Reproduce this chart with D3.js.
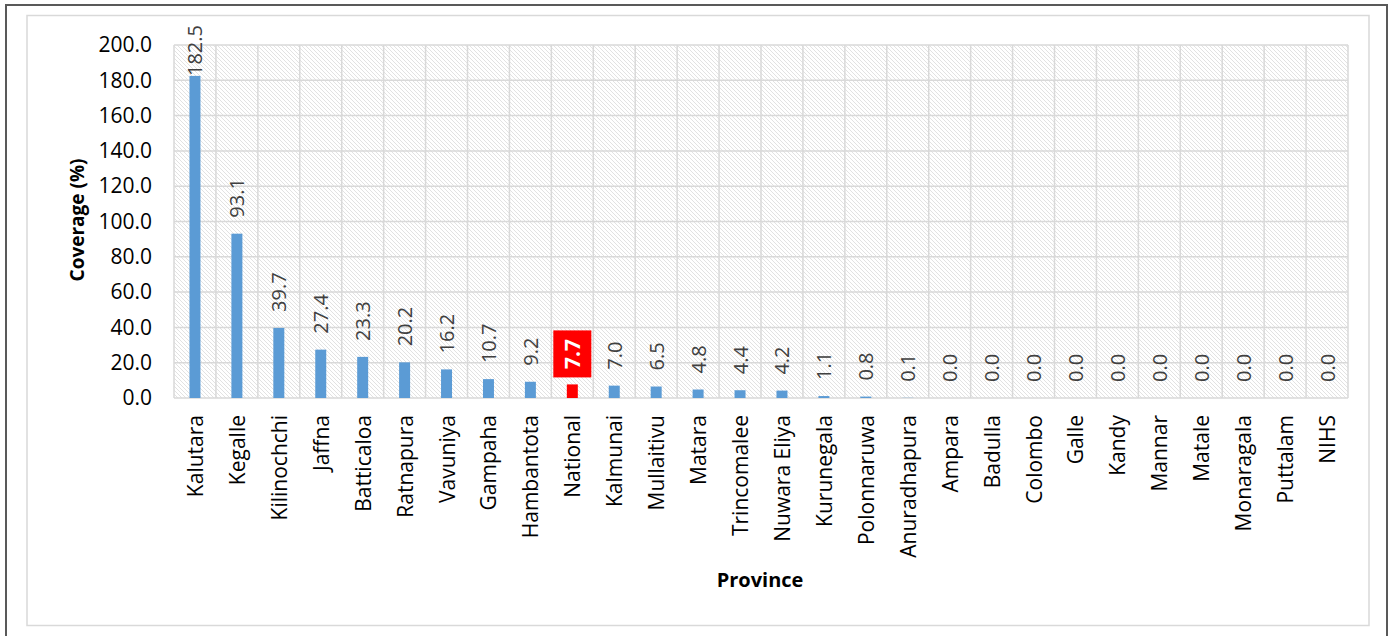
<!DOCTYPE html>
<html>
<head>
<meta charset="utf-8">
<script src="https://cdn.jsdelivr.net/npm/d3@7"></script>
<style>
  html, body { margin: 0; padding: 0; background: #fff; }
  svg { display: block; font-family: "Open Sans", "Noto Sans", sans-serif; }
</style>
</head>
<body>
<svg id="chart" width="1395" height="636"></svg>
<script>
// Coverage by province
const provinces = ["Kalutara", "Kegalle", "Kilinochchi", "Jaffna", "Batticaloa", "Ratnapura",
  "Vavuniya", "Gampaha", "Hambantota", "National", "Kalmunai", "Mullaitivu", "Matara",
  "Trincomalee", "Nuwara Eliya", "Kurunegala", "Polonnaruwa", "Anuradhapura", "Ampara",
  "Badulla", "Colombo", "Galle", "Kandy", "Mannar", "Matale", "Monaragala", "Puttalam", "NIHS"];
const coverage = [182.5, 93.1, 39.7, 27.4, 23.3, 20.2, 16.2, 10.7, 9.2, 7.7, 7.0, 6.5, 4.8,
  4.4, 4.2, 1.1, 0.8, 0.1, 0.0, 0.0, 0.0, 0.0, 0.0, 0.0, 0.0, 0.0, 0.0, 0.0];
const yTicks = [0, 20, 40, 60, 80, 100, 120, 140, 160, 180, 200];
const highlight = "National";

const data = provinces.map((p, i) => ({ name: p, value: coverage[i] }));

const svg = d3.select("#chart");
const plot = { left: 174, right: 1348, top: 45, bottom: 398 };

// Frames
svg.append("rect").attr("x", 6).attr("y", 5).attr("width", 1381).attr("height", 640)
  .attr("fill", "#fff").attr("stroke", "#595959").attr("stroke-width", 2);
svg.append("rect").attr("x", 27).attr("y", 15.5).attr("width", 1342).attr("height", 610)
  .attr("fill", "none").attr("stroke", "#d9d9d9").attr("stroke-width", 1.5);

// Hatched plot background
const defs = svg.append("defs");
const pat = defs.append("pattern").attr("id", "hatch").attr("patternUnits", "userSpaceOnUse")
  .attr("width", 4).attr("height", 4);
pat.append("rect").attr("width", 4).attr("height", 4).attr("fill", "#fff");
[[0, 0], [1, 1], [2, 2], [3, 3]].forEach(([px, py]) => {
  pat.append("rect").attr("x", px).attr("y", py).attr("width", 1).attr("height", 1)
    .attr("fill", "#e2e2e2");
});

const x = d3.scaleBand().domain(provinces).range([plot.left, plot.right])
  .paddingInner(0.738).paddingOuter(0.369);
const y = d3.scaleLinear().domain([0, 200]).range([plot.bottom, plot.top]);
const step = x.step();
const gap = (step - x.bandwidth()) / 2;

svg.append("rect").attr("x", plot.left).attr("y", plot.top)
  .attr("width", plot.right - plot.left).attr("height", plot.bottom - plot.top)
  .attr("fill", "url(#hatch)");

// Grid
const grid = svg.append("g").attr("stroke", "#d9d9d9").attr("stroke-width", 1.5);
grid.selectAll("line.h").data(yTicks).join("line").attr("class", "h")
  .attr("x1", plot.left).attr("x2", plot.right)
  .attr("y1", d => y(d)).attr("y2", d => y(d));
const bounds = provinces.map(p => x(p) - gap).concat([plot.right]);
grid.selectAll("line.v").data(bounds).join("line").attr("class", "v")
  .attr("x1", d => d).attr("x2", d => d)
  .attr("y1", plot.top).attr("y2", plot.bottom);

// Y axis
const yAxis = svg.append("g").attr("transform", `translate(${plot.left - 22},0)`)
  .call(d3.axisLeft(y).tickValues(yTicks).tickFormat(d3.format(".1f")).tickSize(0).tickPadding(0));
yAxis.select(".domain").remove();
yAxis.selectAll("text").attr("font-size", 21).attr("fill", "#000")
  .attr("font-family", "'Open Sans', sans-serif");

// X axis category labels
const xAxis = svg.append("g").attr("transform", `translate(0,${plot.bottom})`)
  .call(d3.axisBottom(x).tickSize(0).tickPadding(0));
xAxis.select(".domain").remove();
xAxis.selectAll("text")
  .attr("font-size", 21).attr("fill", "#000")
  .attr("font-family", "'Open Sans', sans-serif")
  .attr("text-anchor", "end")
  .attr("dy", null).attr("y", 0).attr("x", 0)
  .attr("transform", "translate(0,17) rotate(-90)")
  .attr("dominant-baseline", "central");

// Bars
svg.append("g").selectAll("rect").data(data).join("rect")
  .attr("x", d => x(d.name)).attr("width", x.bandwidth())
  .attr("y", d => y(d.value)).attr("height", d => y(0) - y(d.value))
  .attr("fill", d => d.name === highlight ? "#ff0000" : "#5b9bd5");

// Value labels
const labels = svg.append("g");
data.forEach(d => {
  const cx = x(d.name) + x.bandwidth() / 2;
  const isHi = d.name === highlight;
  const t = labels.append("text")
    .attr("dominant-baseline", "central")
    .attr("font-size", isHi ? 21 : 20)
    .attr("font-weight", isHi ? "bold" : "normal")
    .attr("fill", isHi ? "#fff" : "#404040")
    .text(d3.format(".1f")(d.value));
  const len = t.node().getComputedTextLength();
  if (isHi) {
    // boxed label: box sits just above the bar, text centred in it
    const boxBottom = y(d.value) - 7;
    const boxH = 47;
    labels.insert("rect", "text")
      .attr("x", cx - 19).attr("width", 38)
      .attr("y", boxBottom - boxH).attr("height", boxH)
      .attr("fill", "#ff0000");
    t.attr("text-anchor", "middle")
      .attr("transform", `translate(${cx},${boxBottom - boxH / 2}) rotate(-90)`);
  } else {
    const base = Math.max(y(d.value) - 16, 25 + len);
    t.attr("text-anchor", "start")
      .attr("transform", `translate(${cx},${base}) rotate(-90)`);
  }
});

// Axis titles
svg.append("text").attr("transform", "translate(77,220) rotate(-90)")
  .attr("text-anchor", "middle").attr("dominant-baseline", "central")
  .attr("font-size", 19).attr("font-weight", "bold").text("Coverage (%)");
svg.append("text").attr("x", 760).attr("y", 587)
  .attr("text-anchor", "middle")
  .attr("font-size", 20).attr("font-weight", "bold").text("Province");
</script>
</body>
</html>
